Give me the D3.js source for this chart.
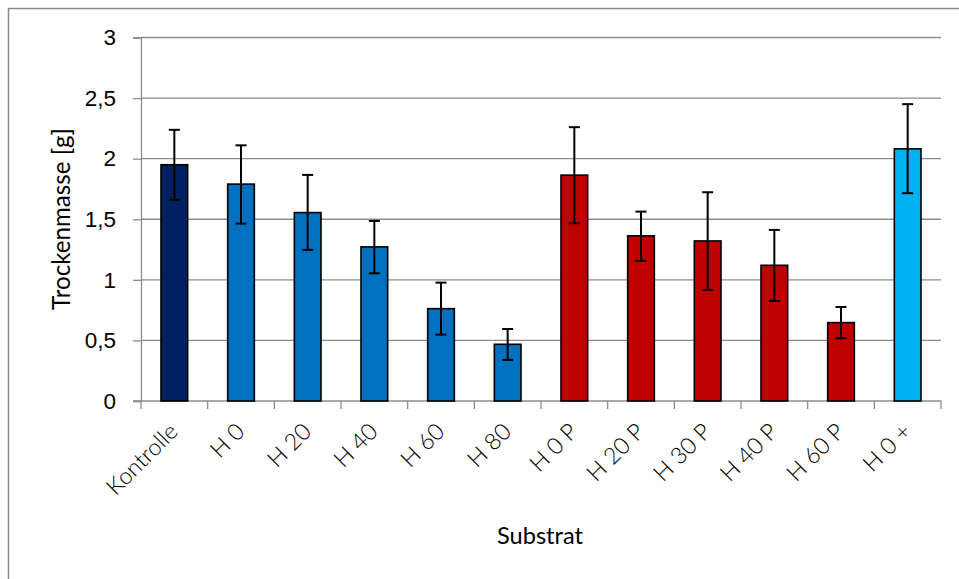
<!DOCTYPE html>
<html><head><meta charset="utf-8">
<script src="https://cdn.jsdelivr.net/npm/d3@7"></script>
<style>
html,body{margin:0;padding:0;background:#fff;}
svg{display:block;font-family:Lato,"Open Sans",sans-serif;}
</style></head>
<body><svg id="c" width="959" height="579"></svg>
<script>
const categories = ["Kontrolle","H 0","H 20","H 40","H 60","H 80","H 0 P","H 20 P","H 30 P","H 40 P","H 60 P","H 0 +"];
const values     = [1.95, 1.79, 1.555, 1.272, 0.762, 0.468, 1.864, 1.363, 1.321, 1.12, 0.647, 2.081];
const errUpper   = [2.238, 2.11, 1.866, 1.486, 0.977, 0.594, 2.26, 1.563, 1.723, 1.412, 0.776, 2.45];
const errLower   = [1.66, 1.464, 1.247, 1.054, 0.548, 0.339, 1.467, 1.156, 0.917, 0.826, 0.518, 1.715];
const groups     = ["k","h","h","h","h","h","p","p","p","p","p","x"];
const yTicks     = [0, 0.5, 1, 1.5, 2, 2.5, 3];
const colors = {k:"#002060", h:"#0070C0", p:"#C00000", x:"#00B0F0"};

(function(){
const svg = d3.select("#c");
const pl = 141, pr = 941, pt = 37.5, pb = 401;

// font size that makes a string reach a target length
function fitSize(str, target, weight){
  const t = svg.append("text").attr("font-size",100).attr("font-weight",weight).text(str);
  const len = t.node().getComputedTextLength();
  t.remove();
  return 100*target/len;
}
const xLabSize = fitSize("Kontrolle", 90, 300);
const yLabSize = fitSize("2,5", 31, 300);
const subSize = fitSize("Substrat", 86, 400);
const ttlSize = fitSize("Trockenmasse [g]", 182, 400);

// outer border
svg.append("rect").attr("x",8.5).attr("y",8.5).attr("width",960).attr("height",600)
  .attr("fill","none").attr("stroke","#888").attr("stroke-width",1.5);

const x = d3.scaleBand().domain(categories).range([pl,pr]).paddingInner(0.6).paddingOuter(0.3);
const y = d3.scaleLinear().domain([0,3]).range([pb,pt]);

// gridlines
svg.append("g").selectAll("line").data(yTicks.filter(d=>d>0)).join("line")
  .attr("x1",pl).attr("x2",pr).attr("y1",d=>y(d)).attr("y2",d=>y(d))
  .attr("stroke","#8c8c8c").attr("stroke-width",1.3);

// y axis
const yAxis = svg.append("g").attr("transform",`translate(${pl},0)`)
  .call(d3.axisLeft(y).tickValues(yTicks).tickSize(8).tickPadding(17)
    .tickFormat(d=>String(d).replace(".",",")));
yAxis.select(".domain").attr("stroke","#8c8c8c").attr("stroke-width",1.3);
yAxis.selectAll(".tick line").attr("stroke","#8c8c8c").attr("stroke-width",1.3);
yAxis.selectAll(".tick text").attr("font-size",yLabSize).attr("font-family",null).attr("font-weight",300).attr("fill","#000");

// x axis line and boundary ticks
svg.append("line").attr("x1",pl-8).attr("x2",pr).attr("y1",pb).attr("y2",pb)
  .attr("stroke","#8c8c8c").attr("stroke-width",1.3);
const bounds = d3.range(categories.length+1).map(i=>pl + i*(pr-pl)/categories.length);
svg.append("g").selectAll("line").data(bounds).join("line")
  .attr("x1",d=>d).attr("x2",d=>d).attr("y1",pb).attr("y2",pb+8)
  .attr("stroke","#8c8c8c").attr("stroke-width",1.3);

// bars
svg.append("g").selectAll("rect").data(categories).join("rect")
  .attr("x",d=>x(d)).attr("width",x.bandwidth())
  .attr("y",(d,i)=>y(values[i])).attr("height",(d,i)=>y(0)-y(values[i]))
  .attr("fill",(d,i)=>colors[groups[i]]).attr("stroke","#000").attr("stroke-width",1.6);

// error bars
const eb = svg.append("g").attr("stroke","#000").attr("stroke-width",2);
categories.forEach((c,i)=>{
  const cx = x(c)+x.bandwidth()/2;
  eb.append("line").attr("x1",cx).attr("x2",cx).attr("y1",y(errUpper[i])).attr("y2",y(errLower[i]));
  eb.append("line").attr("x1",cx-5.5).attr("x2",cx+5.5).attr("y1",y(errUpper[i])).attr("y2",y(errUpper[i]));
  eb.append("line").attr("x1",cx-5.5).attr("x2",cx+5.5).attr("y1",y(errLower[i])).attr("y2",y(errLower[i]));
});

// x tick labels
svg.append("g").selectAll("text").data(categories).join("text")
  .attr("transform",d=>`translate(${x(d)+x.bandwidth()/2+5},${pb+32}) rotate(-45)`)
  .attr("text-anchor","end").attr("font-size",xLabSize).attr("font-weight",300).attr("fill","#000")
  .text(d=>d);

// axis titles
svg.append("text").attr("x",540).attr("y",544).attr("text-anchor","middle")
  .attr("font-size",subSize).attr("fill","#000").text("Substrat");
svg.append("text").attr("transform","translate(70,219) rotate(-90)").attr("text-anchor","middle")
  .attr("font-size",ttlSize).attr("fill","#000").text("Trockenmasse [g]");
})();
</script></body></html>
